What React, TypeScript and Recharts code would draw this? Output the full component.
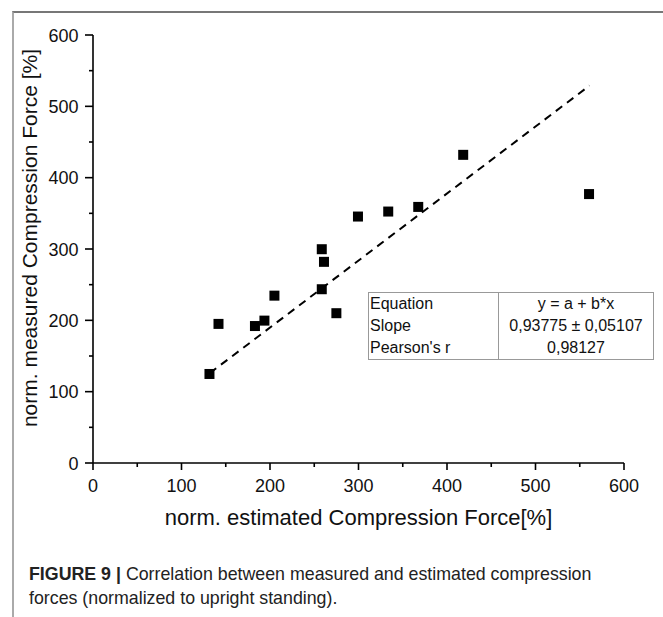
import React from 'react';
import { ScatterChart, Scatter, XAxis, YAxis } from 'recharts';

// Data
const estimatedForce = [131.6, 141.8, 183, 193.7, 205, 258.5, 261, 258.5, 275, 299.4, 333.6, 367.5, 418.3, 560.5];
const measuredForce = [124.8, 195, 192, 199.6, 234.6, 299.7, 282, 243.6, 210, 345.5, 352.5, 359, 432, 377];
const fitX = [132, 561];
const fitY = [126, 529];
const axisTicks = [0, 50, 100, 150, 200, 250, 300, 350, 400, 450, 500, 550, 600];
const labeledTicks = [0, 100, 200, 300, 400, 500, 600];
const tableLabels = ['Equation', 'Slope', "Pearson's r"];
const tableValues = ['y = a + b*x', '0,93775 \u00b1 0,05107', '0,98127'];
const xTitle = 'norm. estimated Compression Force[%]';
const yTitle = 'norm. measured Compression Force [%]';
const captionBold = 'FIGURE 9 |';
const captionLines = ['Correlation between measured and estimated compression', 'forces (normalized to upright standing).'];

const points = estimatedForce.map((x, i) => ({ x, y: measuredForce[i] }));
const fitLine = fitX.map((x, i) => ({ x, y: fitY[i] }));

const FONT = '"Liberation Sans", Arial, Helvetica, sans-serif';

const XTick = (props: any) => {
  const { x, y, payload } = props;
  const v = payload.value;
  const major = labeledTicks.includes(v);
  return (
    <g>
      <line x1={x} x2={x} y1={y} y2={y + (major ? 7 : 4)} stroke="#000" strokeWidth={1.6} />
      {major && (
        <text x={x} y={y + 29} textAnchor="middle" fontSize={18} fontFamily={FONT} fill="#111">
          {v}
        </text>
      )}
    </g>
  );
};

const YTick = (props: any) => {
  const { x, y, payload } = props;
  const v = payload.value;
  const major = labeledTicks.includes(v);
  return (
    <g>
      <line x1={x - (major ? 8 : 4)} x2={x} y1={y} y2={y} stroke="#000" strokeWidth={1.6} />
      {major && (
        <text x={x - 14.5} y={y + 6.5} textAnchor="end" fontSize={18} fontFamily={FONT} fill="#111">
          {v}
        </text>
      )}
    </g>
  );
};

const XTitle = (props: any) => {
  const vb = props.viewBox || { x: 93, y: 463, width: 531, height: 70 };
  return (
    <text x={vb.x + vb.width / 2} y={vb.y + 62} textAnchor="middle" fontSize={22} fontFamily={FONT} fill="#111">
      {xTitle}
    </text>
  );
};

const YTitle = (props: any) => {
  const vb = props.viewBox || { x: 33, y: 35, width: 60, height: 428 };
  const tx = vb.x + vb.width - 56;
  const ty = vb.y + vb.height / 2 - 11;
  return (
    <text x={tx} y={ty} textAnchor="middle" fontSize={21} fontFamily={FONT} fill="#111" transform={`rotate(-90, ${tx}, ${ty})`}>
      {yTitle}
    </text>
  );
};

const Square = (p: any) => <rect x={p.cx - 5} y={p.cy - 5} width={10} height={10} fill="#000" />;

export default function App() {
  return (
    <div style={{ position: 'absolute', left: 0, top: 0, width: 663, height: 617, background: '#fff', fontFamily: FONT, overflow: 'hidden' }}>
      <div
        style={{
          position: 'absolute',
          left: 12,
          top: 11,
          right: -5,
          bottom: -5,
          borderTop: '2px solid #777',
          borderLeft: '2px solid #aaa',
        }}
      />
      <div style={{ position: 'absolute', left: 0, top: 0 }}>
        <ScatterChart width={663} height={617} margin={{ top: 35, right: 39, bottom: 84, left: 33 }}>
          <XAxis
            type="number"
            dataKey="x"
            domain={[0, 600]}
            ticks={axisTicks}
            interval={0}
            tickSize={0}
            tickMargin={0}
            tickLine={false}
            tick={<XTick />}
            height={70}
            axisLine={{ stroke: '#000', strokeWidth: 1.6 }}
            label={<XTitle />}
          />
          <YAxis
            type="number"
            dataKey="y"
            domain={[0, 600]}
            ticks={axisTicks}
            interval={0}
            tickSize={0}
            tickMargin={0}
            tickLine={false}
            tick={<YTick />}
            width={60}
            axisLine={{ stroke: '#000', strokeWidth: 1.6 }}
            label={<YTitle />}
          />
          <Scatter
            data={fitLine}
            line={{ stroke: '#000', strokeWidth: 2, strokeDasharray: '8 6' }}
            shape={() => <g />}
            isAnimationActive={false}
          />
          <Scatter data={points} shape={<Square />} isAnimationActive={false} />
        </ScatterChart>
      </div>
      <div
        style={{
          position: 'absolute',
          left: 368,
          top: 292,
          width: 286,
          height: 68,
          boxSizing: 'border-box',
          border: '1px solid #999',
          display: 'flex',
          fontSize: 16,
          lineHeight: '22px',
          color: '#111',
          background: '#fff',
        }}
      >
        <div style={{ width: 130, borderRight: '1px solid #999', paddingLeft: 1, boxSizing: 'border-box' }}>
          {tableLabels.map((t) => (
            <div key={t} style={{ whiteSpace: 'nowrap' }}>{t}</div>
          ))}
        </div>
        <div style={{ flex: 1, textAlign: 'center' }}>
          {tableValues.map((t) => (
            <div key={t} style={{ whiteSpace: 'nowrap' }}>{t}</div>
          ))}
        </div>
      </div>
      <div
        style={{
          position: 'absolute',
          left: 29,
          top: 562,
          fontSize: 17.8,
          lineHeight: '24.3px',
          color: '#222',
          whiteSpace: 'nowrap',
        }}
      >
        <div>
          <b>{captionBold}</b> {captionLines[0]}
        </div>
        <div>{captionLines[1]}</div>
      </div>
    </div>
  );
}
